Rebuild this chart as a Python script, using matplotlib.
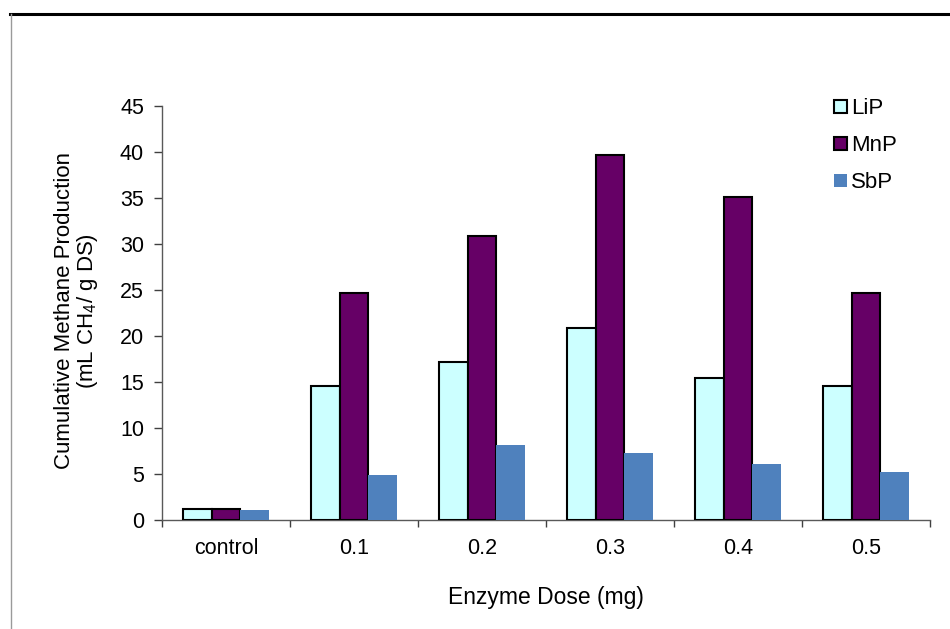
import matplotlib
matplotlib.use("Agg")
import matplotlib.pyplot as plt
import numpy as np
from matplotlib.patches import Patch
from matplotlib.lines import Line2D

plt.rcParams['font.family'] = ['Liberation Sans', 'DejaVu Sans']
plt.rcParams['mathtext.fontset'] = 'custom'
plt.rcParams['mathtext.rm'] = 'Liberation Sans'
plt.rcParams['mathtext.it'] = 'Liberation Sans:italic'

# Data
categories = ["control", "0.1", "0.2", "0.3", "0.4", "0.5"]
series_names = ["LiP", "MnP", "SbP"]
lip = [1.1, 14.5, 17.1, 20.8, 15.4, 14.5]
mnp = [1.1, 24.7, 30.9, 39.7, 35.1, 24.7]
sbp = [1.0, 4.9, 8.1, 7.2, 6.1, 5.2]
y_ticks = [0, 5, 10, 15, 20, 25, 30, 35, 40, 45]

colors = ["#CCFFFF", "#660066", "#4F81BD"]
edges = ["black", "black", "none"]

fig = plt.figure(figsize=(9.5, 6.29), dpi=100)
ax = fig.add_axes([0.1705, 0.174, 0.8085, 0.6574])

x = np.arange(len(categories))
w = 1 / 4.5
for i, (vals, c, e) in enumerate(zip([lip, mnp, sbp], colors, edges)):
    ax.bar(x + (i - 1) * w, vals, width=w, color=c,
           edgecolor=e, linewidth=1.5 if e != "none" else 0, zorder=3)

ax.set_xlim(-0.5, len(categories) - 0.5)
ax.set_ylim(0, 45)
ax.set_yticks(y_ticks)
ax.set_xticks(x)
ax.set_xticklabels(categories)
ax.set_xticks(np.arange(len(categories) + 1) - 0.5, minor=True)

ax.tick_params(axis='x', which='major', length=0, pad=13, labelsize=15.5)
ax.tick_params(axis='x', which='minor', length=5, width=1, color='#404040', direction='out')
ax.tick_params(axis='y', length=6, width=1, color='#404040', pad=7, labelsize=15.5)

for s in ['top', 'right']:
    ax.spines[s].set_visible(False)
for s in ['left', 'bottom']:
    ax.spines[s].set_color('#595959')
    ax.spines[s].set_linewidth(1)

ax.set_xlabel("Enzyme Dose (mg)", fontsize=16.5, labelpad=20)
ax.set_ylabel("Cumulative Methane Production\n(mL CH$_4$/ g DS)", fontsize=16,
              linespacing=1.0)
ax.yaxis.set_label_coords(-0.081, 0.505)

handles = [Patch(facecolor=c, edgecolor=e, linewidth=1.5 if e != "none" else 0)
           for c, e in zip(colors, edges)]
fig.legend(handles, series_names, loc='upper left', bbox_to_anchor=(0.869, 0.858),
           frameon=False, fontsize=16, handlelength=0.55, handleheight=0.55,
           handletextpad=0.2, labelspacing=0.72, borderaxespad=0)

# Page frame: heavy rule along the top, light rule on the left
fig.add_artist(Line2D([10 / 950, 1.0], [1 - 14 / 629, 1 - 14 / 629],
                      transform=fig.transFigure, color='black', linewidth=2.2))
fig.add_artist(Line2D([11 / 950, 11 / 950], [0, 1 - 14 / 629],
                      transform=fig.transFigure, color='#9a9a9a', linewidth=1))

fig.savefig("out.png", dpi=100)
